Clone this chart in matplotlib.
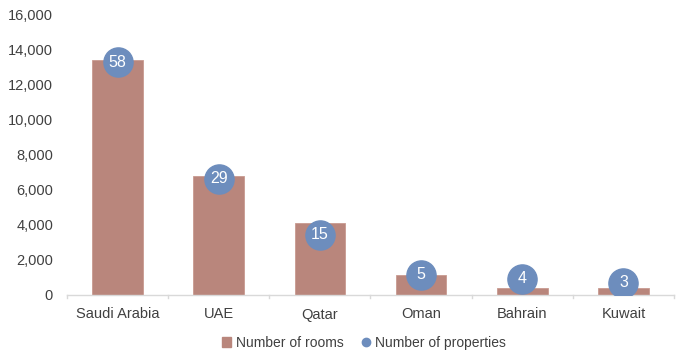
import matplotlib
matplotlib.use("Agg")
import matplotlib.pyplot as plt
from matplotlib.lines import Line2D
from matplotlib.patches import Patch

plt.rcParams['font.family'] = ['Liberation Sans', 'DejaVu Sans']

countries = ["Saudi Arabia", "UAE", "Qatar", "Oman", "Bahrain", "Kuwait"]
rooms = [13400, 6800, 4100, 1150, 400, 400]
properties = [58, 29, 15, 5, 4, 3]
yticks = [0, 2000, 4000, 6000, 8000, 10000, 12000, 14000, 16000]

bar_color = "#b9867c"
dot_color = "#6d8dbd"
text_color = "#404040"

fig = plt.figure(figsize=(6.82, 3.56), dpi=100)
ax = fig.add_axes([67/682, 1-295/356, (674-67)/682, (295-14)/356])

x = range(len(countries))
ax.bar(x, rooms, width=0.5, color=bar_color, edgecolor="#c99a90", linewidth=0.6, zorder=2)
ax.set_xlim(-0.5, len(countries)-0.5)
ax.set_ylim(0, 16000)
ax.set_yticks(yticks)
ax.set_yticklabels([f"{v:,}" for v in yticks])
ax.set_xticks(list(x))
ax.set_xticklabels(countries)
ax.tick_params(axis='y', length=0, colors=text_color, labelsize=10.5, pad=10)
ax.tick_params(axis='x', length=0, colors=text_color, labelsize=10.5, pad=9)
for s in ["top", "right", "left"]:
    ax.spines[s].set_visible(False)
ax.spines["bottom"].set_color("#d9d9d9")
ax.spines["bottom"].set_linewidth(1)
# category boundary ticks below the axis
for b in [i - 0.5 for i in range(len(countries) + 1)]:
    ax.plot([b, b], [0, -180], color="#d9d9d9", lw=1, clip_on=False, zorder=1)

ax2 = ax.twinx()
ax2.set_ylim(0, 70)
ax2.axis("off")
ax2.plot(list(x), properties, linestyle="none", marker="o", markersize=21,
         color=dot_color, zorder=3)
for xi, p in zip(x, properties):
    ax2.text(xi, p, str(p), ha="center", va="center", color="white", fontsize=11.5, zorder=4)

handles = [Patch(facecolor=bar_color, edgecolor=bar_color),
           Line2D([], [], linestyle="none", marker="o", color=dot_color, markersize=6)]
fig.legend(handles, ["Number of rooms", "Number of properties"], loc="center",
           bbox_to_anchor=(364/682, 1-343/356), ncol=2, frameon=False,
           fontsize=10, labelcolor=text_color, handlelength=0.7, handleheight=0.7,
           handletextpad=0.3, columnspacing=1.3)

fig.savefig("out.png", dpi=100)
